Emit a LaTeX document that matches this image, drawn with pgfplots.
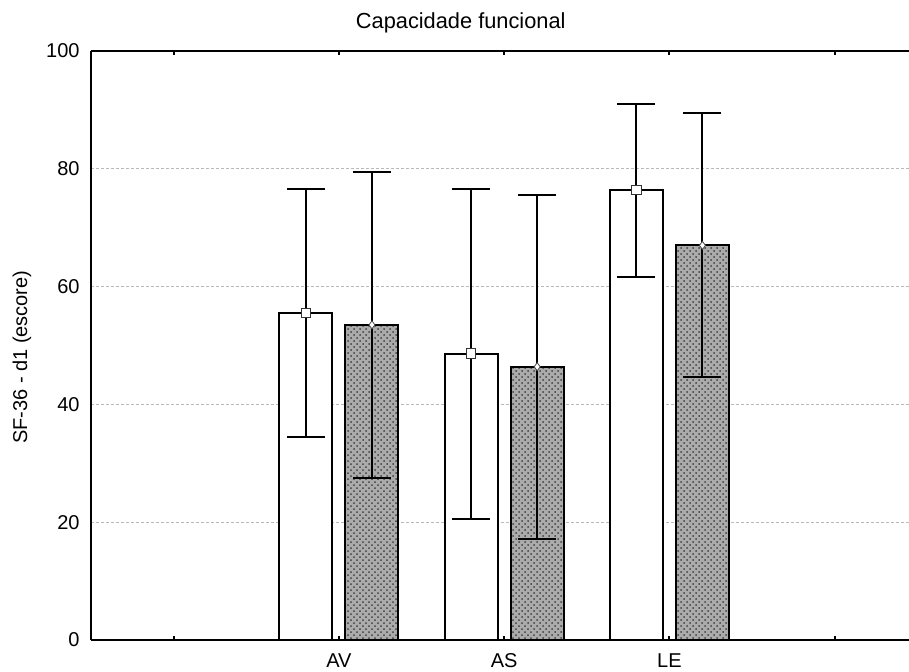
\documentclass[border=0pt]{standalone}
\usepackage{pgfplots}
\pgfplotsset{compat=1.18}
\usepackage{pgfplotstable}
\usepackage{fontspec}
\setmainfont{Liberation Sans}
\usetikzlibrary{patterns,calc}

% mean, upper and lower limit for each group and each series
\pgfplotstableread{
x  wm    wh    wl    hm    hh    hl
1  55.5  76.6  34.4  53.5  79.5  27.5
2  48.6  76.5  20.5  46.4  75.5  17.1
3  76.4  91.0  61.7  67.0  89.4  44.7
}\sfdata

\begin{document}
\begin{tikzpicture}
\begin{axis}[
  name=ax,
  scale only axis,
  width=409pt, height=294.5pt,
  xmin=-0.5, xmax=4.45,
  ymin=0, ymax=100,
  axis x line=box,
  axis y line*=left,
  x axis line style={-, line width=0.9pt},
  y axis line style={-, line width=0.9pt},
  xtick={0,1,2,3,4},
  xticklabels={,AV,AS,LE,},
  ytick={0,20,40,60,80,100},
  tick align=inside,
  major tick length=2pt,
  xtick style={line width=0.9pt, black},
  ytick style={draw=none},
  ymajorgrids,
  major grid style={gray!55, line width=0.4pt, dash pattern=on 1.5pt off 1pt},
  font=\fontsize{10}{12}\selectfont,
  /pgf/number format/assume math mode=true,
  xticklabel style={anchor=base, yshift=-13.8pt, inner sep=0pt},
  yticklabel style={anchor=east, xshift=-5.5pt, inner sep=0pt},
  ylabel={SF-36 - d1 (escore)},
  ylabel style={at={(axis description cs:-0.0782,0.48)}, anchor=base, inner sep=0pt},
  title={Capacidade funcional},
  every axis title shift=0pt,
  title style={at={(axis description cs:0.452,1)}, anchor=base, yshift=11.5pt,
    inner sep=0pt, font=\fontsize{10.9}{13}\selectfont},
  clip=false,
]
% bars
\addplot[ybar, bar width=0.32, bar shift=-0.2, draw=black, line width=1pt, fill=white]
  table[x=x, y=wm] {\sfdata};
\addplot[ybar, bar width=0.32, bar shift=0.2, draw=black, line width=1pt, fill=black!33,
  postaction={pattern=crosshatch dots, pattern color=black!75}]
  table[x=x, y=hm] {\sfdata};
% whiskers and means
\addplot[only marks, mark=square*, mark size=2.4pt,
  mark options={fill=white, draw=black!80, line width=0.5pt},
  error bars/.cd, y dir=both, y explicit,
  error bar style={black, line width=1pt},
  error mark options={rotate=90, mark size=9.5pt, line width=1pt, black}]
  table[x expr=\thisrow{x}-0.2, y=wm,
        y error plus expr=\thisrow{wh}-\thisrow{wm},
        y error minus expr=\thisrow{wm}-\thisrow{wl}] {\sfdata};
\addplot[only marks, mark=diamond*, mark size=2pt,
  mark options={fill=white, draw=black!70, line width=0.4pt},
  error bars/.cd, y dir=both, y explicit,
  error bar style={black, line width=1pt},
  error mark options={rotate=90, mark size=9.5pt, line width=1pt, black}]
  table[x expr=\thisrow{x}+0.2, y=hm,
        y error plus expr=\thisrow{hh}-\thisrow{hm},
        y error minus expr=\thisrow{hm}-\thisrow{hl}] {\sfdata};
\end{axis}
\pgfresetboundingbox
\path[use as bounding box] ($(ax.south west)+(-45.5pt,-15.5pt)$) rectangle ++(454.5pt,335.5pt);
\end{tikzpicture}
\end{document}
